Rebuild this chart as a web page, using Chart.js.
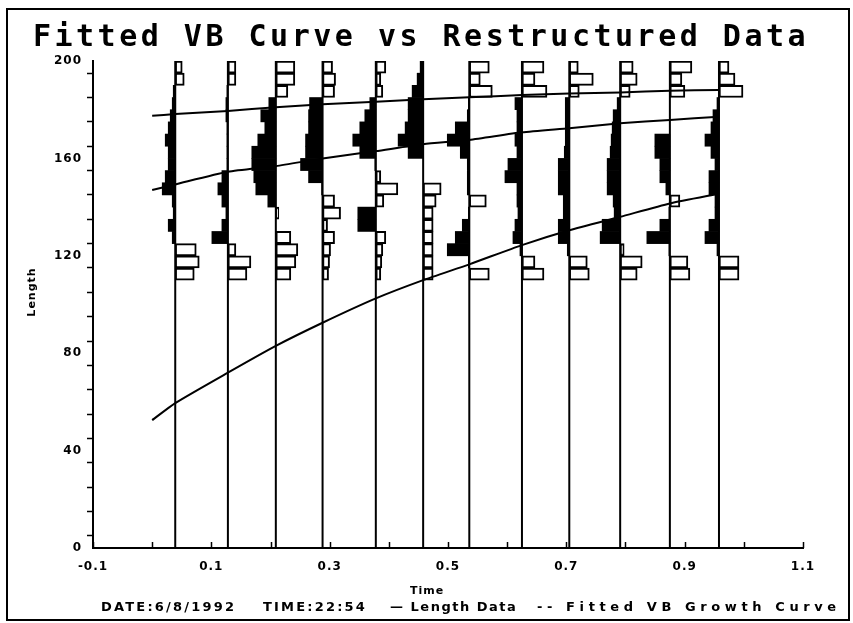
<!DOCTYPE html>
<html>
<head>
<meta charset="utf-8">
<script src="https://cdn.jsdelivr.net/npm/chart.js@4.4.1/dist/chart.umd.min.js"></script>
<style>
  html, body { margin: 0; padding: 0; background: #fff; }
  #chart { display: block; }
</style>
</head>
<body>
<canvas id="chart" width="853" height="623"></canvas>
<script>
///////////// Data ///////////////
// length classes (lower edge), class width 5
const lengthClasses = [110, 115, 120, 125, 130, 135, 140, 145, 150, 155, 160, 165, 170, 175, 180, 185, 190, 195];
const classWidth = 5;

// time of each monthly sample
const sampleTimes = [0.039, 0.128, 0.209, 0.288, 0.378, 0.458, 0.536, 0.625, 0.705, 0.791, 0.875, 0.958];

// restructured scores per sample, low class -> high class (+ = peak, - = trough)
const sample01 = [-0.76, -0.96, -0.84, 0.12, 0.28, 0.08, 0.12, 0.52, 0.40, 0.28, 0.28, 0.40, 0.28, 0.20, 0.12, 0.08, -0.36, -0.28];
const sample02 = [-0.76, -0.92, -0.32, 0.64, 0.24, 0.08, 0.24, 0.40, 0.24, 0.04, 0.04, 0.04, 0.04, 0.08, 0.08, 0.04, -0.32, -0.32];
const sample03 = [-0.60, -0.80, -0.88, -0.60, 0, -0.12, 0.32, 0.80, 0.88, 0.96, 0.96, 0.72, 0.44, 0.60, 0.28, -0.48, -0.76, -0.76];
const sample04 = [-0.24, -0.28, -0.32, -0.48, -0.20, -0.72, -0.48, 0.04, 0.56, 0.88, 0.68, 0.68, 0.56, 0.56, 0.52, -0.48, -0.52, -0.40];
const sample05 = [-0.20, -0.24, -0.28, -0.40, 0.72, 0.72, -0.32, -0.88, -0.20, 0.04, 0.64, 0.92, 0.64, 0.44, 0.24, -0.28, -0.20, -0.40];
const sample06 = [-0.40, -0.40, -0.40, -0.40, -0.40, -0.40, -0.52, -0.72, 0, 0, 0.60, 1.00, 0.72, 0.60, 0.60, 0.44, 0.24, 0.12];
const sample07 = [-0.80, 0.04, 0.88, 0.56, 0.28, 0.04, -0.68, 0.08, 0.08, 0.08, 0.36, 0.88, 0.56, 0.08, 0.04, -0.92, -0.44, -0.80];
const sample08 = [-0.88, -0.52, 0.08, 0.36, 0.28, 0.16, 0.20, 0.20, 0.68, 0.56, 0.20, 0.28, 0.20, 0.20, 0.28, -1.00, -0.52, -0.88];
const sample09 = [-0.80, -0.72, 0.08, 0.44, 0.44, 0.24, 0.24, 0.44, 0.44, 0.44, 0.20, 0.16, 0.16, 0.16, 0.16, -0.40, -0.96, -0.36];
const sample10 = [-0.68, -0.88, -0.16, 0.80, 0.72, 0.24, 0.28, 0.52, 0.52, 0.52, 0.40, 0.36, 0.32, 0.28, 0.12, -0.40, -0.68, -0.52];
const sample11 = [-0.80, -0.72, 0.04, 0.92, 0.40, 0.04, -0.40, 0.16, 0.40, 0.40, 0.60, 0.60, 0, 0, 0, -0.60, -0.48, -0.88];
const sample12 = [-0.80, -0.80, 0.08, 0.56, 0.40, 0.16, 0.16, 0.40, 0.40, 0.16, 0.32, 0.56, 0.32, 0.24, 0.08, -0.96, -0.64, -0.40];
const samples = [sample01, sample02, sample03, sample04, sample05, sample06,
                 sample07, sample08, sample09, sample10, sample11, sample12];

// width (in time units) of a score of 1
const scoreScale = 0.0423;

// fitted VB growth curves
const curveTimes  = [0.0, 0.039, 0.128, 0.209, 0.288, 0.378, 0.458, 0.536, 0.625, 0.705, 0.791, 0.875, 0.958];
const cohortUpper = [177.5, 178.2, 179.5, 181.0, 182.2, 183.3, 184.3, 185.1, 186.0, 186.7, 187.1, 187.8, 188.1];
const cohortMid   = [147.0, 149.3, 154.5, 156.8, 160.0, 163.0, 165.8, 167.6, 170.7, 172.4, 174.4, 175.8, 177.1];
const cohortLow   = [52.5, 59.5, 72.0, 83.0, 92.5, 102.5, 110.0, 116.5, 124.4, 130.5, 136.0, 141.5, 145.5];

const titleText = 'Fitted VB Curve vs Restructured Data';
const footerTexts = ['DATE:6/8/1992', 'TIME:22:54', '\u2014 Length Data', '-- Fitted VB Growth Curve'];
/////////////////////////////////////////////////////////

// Build the bars
var peakBars = [];
var troughBars = [];
samples.forEach((scores, i) => {
    const t = sampleTimes[i];
    scores.forEach((s, j) => {
        if (s === 0) return;
        const mid = lengthClasses[j] + classWidth / 2;
        if (s > 0) {
            peakBars.push({ y: mid, x: [t - s * scoreScale, t] });
        } else {
            troughBars.push({ y: mid, x: [t, t - s * scoreScale] });
        }
    });
});

// Build the baselines
var baseLines = sampleTimes.map(t => ({
    type: 'line',
    data: [{ x: t, y: 0 }, { x: t, y: 200 }],
    borderColor: '#000',
    borderWidth: 2,
    pointRadius: 0,
    order: 4
}));

function curve(values) {
    return {
        type: 'line',
        data: curveTimes.map((t, i) => ({ x: t, y: values[i] })),
        borderColor: '#000',
        borderWidth: 2,
        pointRadius: 0,
        tension: 0.2,
        order: 0
    };
}

const barCommon = {
    type: 'bar',
    indexAxis: 'y',
    grouped: false,
    barPercentage: 1,
    categoryPercentage: 1,
    borderSkipped: false
};

const labelFont = { family: 'DejaVu Sans', size: 12, weight: 'bold' };

/////// Extra drawing: frame, title, axis titles, footer, x tick marks ///////
const decor = {
    id: 'decor',
    beforeDraw(chart) {
        chart.ctx.letterSpacing = '1px';
    },
    afterDraw(chart) {
        const ctx = chart.ctx;
        const area = chart.chartArea;
        const xs = chart.scales.x;
        ctx.save();
        ctx.fillStyle = '#000';
        ctx.strokeStyle = '#000';

        // x tick marks pointing up
        ctx.lineWidth = 1.5;
        for (let k = -1; k <= 11; k++) {
            const px = Math.round(xs.getPixelForValue(k / 10)) + 0.5;
            ctx.beginPath();
            ctx.moveTo(px, area.bottom);
            ctx.lineTo(px, area.bottom - 6);
            ctx.stroke();
        }

        // title
        ctx.font = 'bold 30px "DejaVu Sans Mono"';
        ctx.letterSpacing = '3.5px';
        ctx.textAlign = 'center';
        ctx.textBaseline = 'alphabetic';
        ctx.fillText(titleText, 421, 46);

        // axis titles
        ctx.font = 'bold 11px "DejaVu Sans"';
        ctx.letterSpacing = '1px';
        ctx.textBaseline = 'middle';
        ctx.fillText('Time', 427, 591);
        ctx.save();
        ctx.translate(32, 292);
        ctx.rotate(-Math.PI / 2);
        ctx.fillText('Length', 0, 0);
        ctx.restore();

        // footer
        ctx.font = 'bold 13px "DejaVu Sans"';
        ctx.textAlign = 'left';
        ctx.textBaseline = 'alphabetic';
        const footerX = [101, 263, 390, 537];
        const footerSpacing = ['2.2px', '2.2px', '1.5px', '4.6px'];
        footerTexts.forEach((txt, i) => {
            ctx.letterSpacing = footerSpacing[i];
            ctx.fillText(txt, footerX[i], 611);
        });

        // frame (covers the clipped end of the footer)
        ctx.fillStyle = '#fff';
        ctx.fillRect(850, 0, 3, 623);
        ctx.lineWidth = 2;
        ctx.strokeRect(7, 9, 842, 611);
        ctx.restore();
    }
};

/////////////////// Create the Graph ////////////////////
const ctx = document.getElementById('chart').getContext('2d');
const graph = new Chart(ctx, {
    type: 'line',
    data: {
        datasets: [
            curve(cohortUpper),
            curve(cohortMid),
            curve(cohortLow),
            Object.assign({}, barCommon, {
                data: troughBars,
                backgroundColor: '#fff',
                borderColor: '#000',
                borderWidth: 2,
                order: 1
            }),
            Object.assign({}, barCommon, {
                data: peakBars,
                backgroundColor: '#000',
                borderColor: '#000',
                borderWidth: 0,
                order: 2
            })
        ].concat(baseLines)
    },
    options: {
        responsive: false,
        animation: false,
        devicePixelRatio: 1,
        layout: { padding: { left: 0, right: 50, top: 61, bottom: 0 } },
        plugins: {
            legend: { display: false },
            tooltip: { enabled: false },
            title: { display: false }
        },
        scales: {
            x: {
                type: 'linear',
                min: -0.1,
                max: 1.1,
                offset: false,
                grid: { display: true, drawOnChartArea: false, drawTicks: false },
                border: { display: true, color: '#000', width: 2 },
                ticks: {
                    stepSize: 0.1,
                    autoSkip: false,
                    maxRotation: 0,
                    padding: 12,
                    color: '#000',
                    font: labelFont,
                    callback: function (v) {
                        const r = Math.round(v * 10);
                        return (r % 2 !== 0) ? (r / 10).toFixed(1) : '';
                    }
                },
                afterFit: function (scale) { scale.height = 75; }
            },
            y: {
                type: 'linear',
                min: 0,
                max: 200,
                offset: false,
                grid: { display: true, drawOnChartArea: false, drawTicks: true, tickLength: 6, tickColor: '#000', tickWidth: 1.5 },
                border: { display: true, color: '#000', width: 2 },
                ticks: {
                    stepSize: 10,
                    autoSkip: false,
                    padding: 5,
                    color: '#000',
                    font: labelFont,
                    callback: function (v) { return (v % 40 === 0) ? String(v) : ''; }
                },
                afterFit: function (scale) { scale.width = 93; }
            }
        }
    },
    plugins: [decor]
});
</script>
</body>
</html>
